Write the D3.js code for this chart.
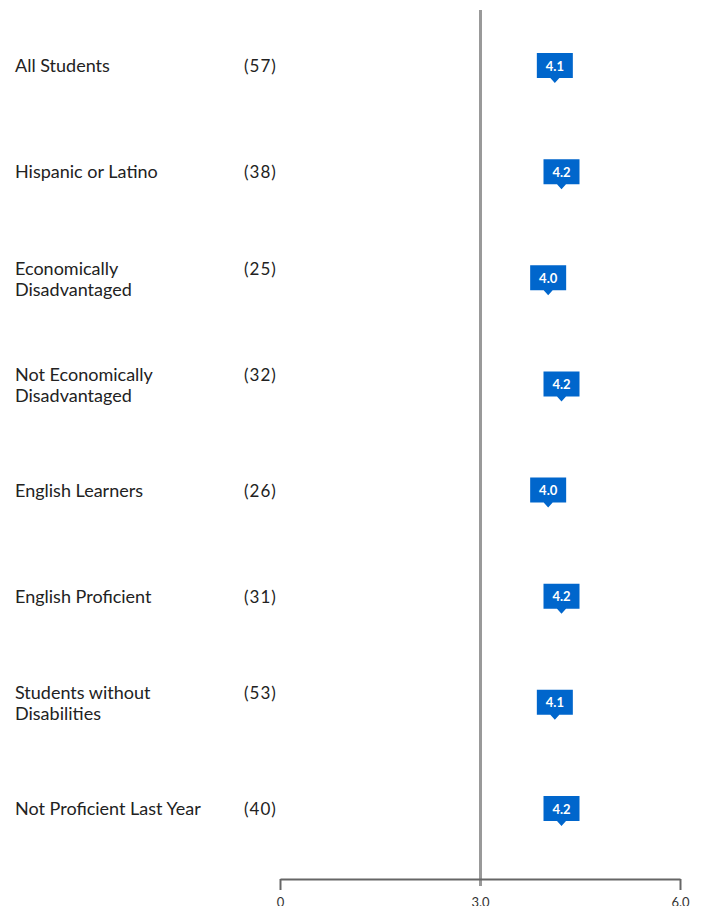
<!DOCTYPE html>
<html>
<head>
<meta charset="utf-8">
<script src="https://cdn.jsdelivr.net/npm/d3@7"></script>
<style>
  body { margin: 0; background: #fff; }
  svg { display: block; font-family: Lato, "Open Sans", sans-serif; }
</style>
</head>
<body>
<div id="chart"></div>
<script>
const groups = [
  ["All Students"],
  ["Hispanic or Latino"],
  ["Economically", "Disadvantaged"],
  ["Not Economically", "Disadvantaged"],
  ["English Learners"],
  ["English Proficient"],
  ["Students without", "Disabilities"],
  ["Not Proficient Last Year"]
];
const counts = [57, 38, 25, 32, 26, 31, 53, 40];
const scores = [4.1, 4.2, 4.0, 4.2, 4.0, 4.2, 4.1, 4.2];
const ticks = [0, 3, 6];
const refValue = 3;

(function() {
  const width = 701, height = 906;

  const svg = d3.select("#chart").append("svg")
    .attr("width", width)
    .attr("height", height);

  const x = d3.scaleLinear().domain([0, 6]).range([280, 680]);
  const y = d3.scalePoint().domain(d3.range(groups.length)).range([66, 809]);
  const axisY = 879;

  // Reference line at 3.0
  svg.append("line")
    .attr("x1", x(refValue) + 0.5).attr("x2", x(refValue) + 0.5)
    .attr("y1", 10).attr("y2", 886)
    .attr("stroke", "#999")
    .attr("stroke-width", 3);

  // Axis
  const axis = svg.append("g")
    .attr("transform", `translate(0,${axisY})`)
    .call(d3.axisBottom(x).tickValues(ticks).tickSize(11).tickSizeOuter(0).tickPadding(8)
      .tickFormat(d => d === 0 ? "0" : d3.format(".1f")(d)));
  axis.select(".domain").attr("stroke", "#666").attr("stroke-width", 2);
  axis.selectAll(".tick line").attr("stroke", "#666").attr("stroke-width", 2);
  axis.selectAll(".tick").filter(d => d === refValue).select("line").remove();
  axis.selectAll(".tick text")
    .attr("font-family", "Lato, sans-serif")
    .attr("font-size", 13)
    .attr("fill", "#333");

  const rows = svg.append("g").selectAll("g")
    .data(groups)
    .join("g")
    .attr("transform", (d, i) => `translate(0,${y(i)})`);

  const firstBase = d => d.length === 1 ? 6 : -3.5;

  // Labels
  rows.append("text")
    .attr("x", 15)
    .attr("font-size", 18)
    .attr("fill", "#222")
    .each(function(d) {
      const t = d3.select(this);
      d.forEach((line, k) => {
        t.append("tspan").attr("x", 15).attr("y", firstBase(d) + k * 21).text(line);
      });
    });

  // Counts
  rows.append("text")
    .attr("x", 244)
    .attr("y", firstBase)
    .attr("font-size", 17)
    .attr("letter-spacing", 1)
    .attr("fill", "#222")
    .text((d, i) => `(${counts[i]})`);

  // Score markers
  const marker = rows.append("g")
    .attr("transform", (d, i) => `translate(${x(scores[i]) + 1.5},0)`);

  marker.append("path")
    .attr("d", "M-18,-13H18V12H4.5L0,17L-4.5,12H-18Z")
    .attr("fill", "#0066cc");

  marker.append("text")
    .attr("y", 4.5)
    .attr("text-anchor", "middle")
    .attr("font-size", 13)
    .attr("font-weight", "bold")
    .attr("fill", "#fff")
    .text((d, i) => d3.format(".1f")(scores[i]));
})();
</script>
</body>
</html>
